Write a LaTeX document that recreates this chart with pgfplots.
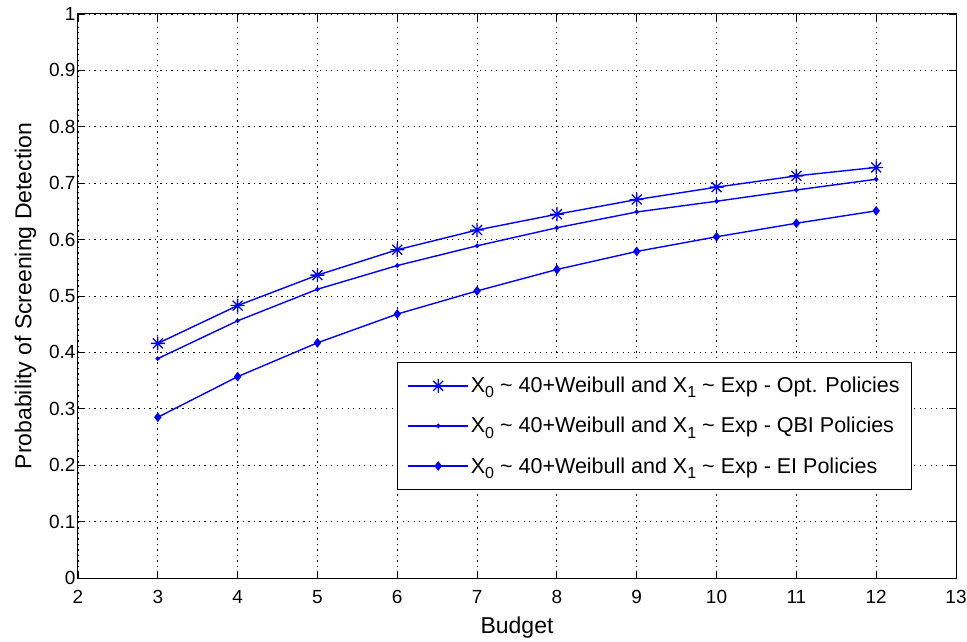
\documentclass[border=0pt]{standalone}
\usepackage{fontspec}
\setmainfont{Liberation Sans}
\usepackage{pgfplots}
\pgfplotsset{compat=1.18}
\pgfdeclareplotmark{mstar}{%
 \pgfpathmoveto{\pgfqpoint{-\pgfplotmarksize}{0pt}}\pgfpathlineto{\pgfqpoint{\pgfplotmarksize}{0pt}}%
 \pgfpathmoveto{\pgfqpoint{0pt}{-\pgfplotmarksize}}\pgfpathlineto{\pgfqpoint{0pt}{\pgfplotmarksize}}%
 \pgfpathmoveto{\pgfqpoint{-0.707\pgfplotmarksize}{-0.707\pgfplotmarksize}}\pgfpathlineto{\pgfqpoint{0.707\pgfplotmarksize}{0.707\pgfplotmarksize}}%
 \pgfpathmoveto{\pgfqpoint{-0.707\pgfplotmarksize}{0.707\pgfplotmarksize}}\pgfpathlineto{\pgfqpoint{0.707\pgfplotmarksize}{-0.707\pgfplotmarksize}}%
 \pgfusepathqstroke}
\newcommand{\sub}[1]{\raisebox{-0.45ex}{\fontsize{16}{18}\selectfont #1}}
\begin{document}
\begin{tikzpicture}
\begin{axis}[
  at={(0pt,0pt)}, anchor=south west,
  scale only axis, width=878pt, height=564pt,
  xmin=2, xmax=13, ymin=0, ymax=1,
  xtick={2,3,4,5,6,7,8,9,10,11,12,13},
  ytick={0,0.1,0.2,0.3,0.4,0.5,0.6,0.7,0.8,0.9,1},
  yticklabels={0,0.1,0.2,0.3,0.4,0.5,0.6,0.7,0.8,0.9,1},
  /pgf/number format/assume math mode=true,
  tick label style={font=\fontsize{19}{21}\selectfont},
  label style={font=\fontsize{23}{26}\selectfont},
  xlabel={Budget}, ylabel={Probability of Screening Detection},
  xlabel style={yshift=-6pt},
  ylabel style={yshift=6pt},
  xticklabel style={yshift=-9pt},
  yticklabel style={xshift=1pt},
  grid=major,
  major grid style={black, line width=0.9pt, dash pattern=on 1.2pt off 4.3pt},
  axis line style={black, line width=1pt},
  major tick length=7pt,
  tick style={black, line width=0.9pt},
  tick align=inside,
  legend style={at={(0.95,0.156)}, anchor=south east, draw=black, line width=1pt, fill=white,
    font=\fontsize{21.5}{24}\selectfont, row sep=19pt, inner xsep=10pt, inner ysep=13pt},
  legend cell align=left,
  legend image code/.code={\draw[mark repeat=2,mark phase=2] plot coordinates {(0pt,0pt) (30pt,0pt) (60pt,0pt)};},
]
\addplot[blue, line width=1.4pt, mark=mstar, mark size=7pt, mark options={line width=1.3pt}] coordinates {
(3,0.416) (4,0.483) (5,0.537) (6,0.582) (7,0.617) (8,0.645) (9,0.671) (10,0.693) (11,0.713) (12,0.728)};
\addlegendentry{X\sub{0} \char`\~{} 40+Weibull and X\sub{1} \char`\~{} Exp - Opt. Policies}
\addplot[blue, line width=1.4pt, mark=*, mark size=1.5pt] coordinates {
(3,0.389) (4,0.456) (5,0.512) (6,0.554) (7,0.589) (8,0.621) (9,0.649) (10,0.668) (11,0.688) (12,0.707)};
\addlegendentry{X\sub{0} \char`\~{} 40+Weibull and X\sub{1} \char`\~{} Exp - QBI Policies}
\addplot[blue, line width=1.4pt, mark=diamond*, mark size=3.8pt] coordinates {
(3,0.285) (4,0.357) (5,0.417) (6,0.468) (7,0.509) (8,0.547) (9,0.579) (10,0.605) (11,0.629) (12,0.651)};
\addlegendentry{X\sub{0} \char`\~{} 40+Weibull and X\sub{1} \char`\~{} Exp - EI Policies}
\end{axis}
\pgfresetboundingbox
\path (-78pt,-63pt) rectangle (889pt,578pt);
\end{tikzpicture}
\end{document}
